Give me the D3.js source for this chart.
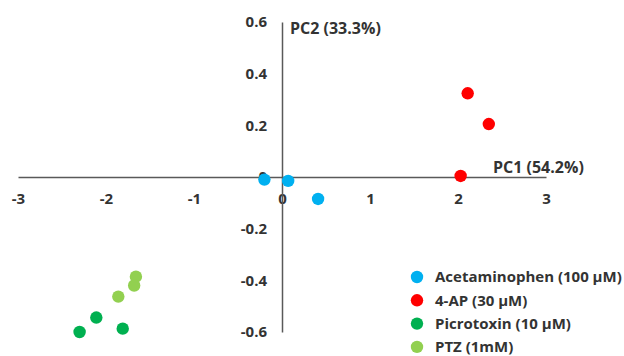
<!DOCTYPE html>
<html lang="en">
<head>
<meta charset="UTF-8">
<script src="https://cdn.jsdelivr.net/npm/d3@7"></script>
<title>PCA</title>
<style>
    body { margin: 0; background: #fff; }
    text { font-family: "Open Sans", sans-serif; font-weight: bold; fill: #333; }
</style>
</head>
<body>
<script>
    // groups and PC scores
    var groups = ["Acetaminophen (100 \u00b5M)", "4-AP (30 \u00b5M)", "Picrotoxin (10 \u00b5M)", "PTZ (1mM)"];
    var colors = ["#00b0f0", "#ff0000", "#00b050", "#92d050"];
    var pc1 = [-0.2, 0.07, 0.41, 2.11, 2.35, 2.03, -2.11, -2.3, -1.81, -1.66, -1.68, -1.86];
    var pc2 = [-0.01, -0.015, -0.085, 0.324, 0.205, 0.004, -0.544, -0.6, -0.587, -0.386, -0.42, -0.463];
    var groupOf = [0, 0, 0, 1, 1, 1, 2, 2, 2, 3, 3, 3];
    var xTicks = [-3, -2, -1, 0, 1, 2, 3];
    var yTicks = [-0.6, -0.4, -0.2, 0, 0.2, 0.4, 0.6];

    var width = 624, height = 356;
    var svg = d3.select("body").append("svg").attr("width", width).attr("height", height);

    var x = d3.scaleLinear().domain([-3, 3]).range([18, 546]);
    var y = d3.scaleLinear().domain([-0.6, 0.6]).range([332, 22]);

    // hyphen minus, like the original
    var xAxis = d3.axisBottom(x).tickValues(xTicks).tickSize(0).tickPadding(16)
        .tickFormat(function(d) { return String(d); });
    var yAxis = d3.axisLeft(y).tickValues(yTicks).tickSize(0).tickPadding(15)
        .tickFormat(function(d) { return d === 0 ? "0" : d.toFixed(1); });

    var gx = svg.append("g").attr("transform", `translate(0, ${y(0)})`).call(xAxis);
    var gy = svg.append("g").attr("transform", `translate(${x(0)}, 0)`).call(yAxis);

    [gx, gy].forEach(function(g) {
        g.select(".domain").attr("stroke", "#595959").attr("stroke-width", 1.5);
        g.selectAll(".tick text").attr("font-size", 15).attr("font-family", null).attr("fill", "#333");
    });

    svg.append("text").attr("x", 493).attr("y", 173).attr("font-size", 16).text("PC1 (54.2%)");
    svg.append("text").attr("x", 290).attr("y", 34).attr("font-size", 16).text("PC2 (33.3%)");

    svg.append("g").selectAll("circle")
        .data(d3.range(pc1.length))
        .enter().append("circle")
        .attr("cx", function(i) { return x(pc1[i]); })
        .attr("cy", function(i) { return y(pc2[i]); })
        .attr("r", 6.2)
        .attr("fill", function(i) { return colors[groupOf[i]]; });

    var legend = svg.append("g").selectAll("g")
        .data(groups)
        .enter().append("g")
        .attr("transform", function(d, i) { return `translate(417, ${277 + i * 23.3})`; });
    legend.append("circle").attr("r", 6.2).attr("fill", function(d, i) { return colors[i]; });
    legend.append("text").attr("x", 18).attr("dy", "0.35em").attr("font-size", 15)
        .text(function(d) { return d; });
</script>
</body>
</html>
